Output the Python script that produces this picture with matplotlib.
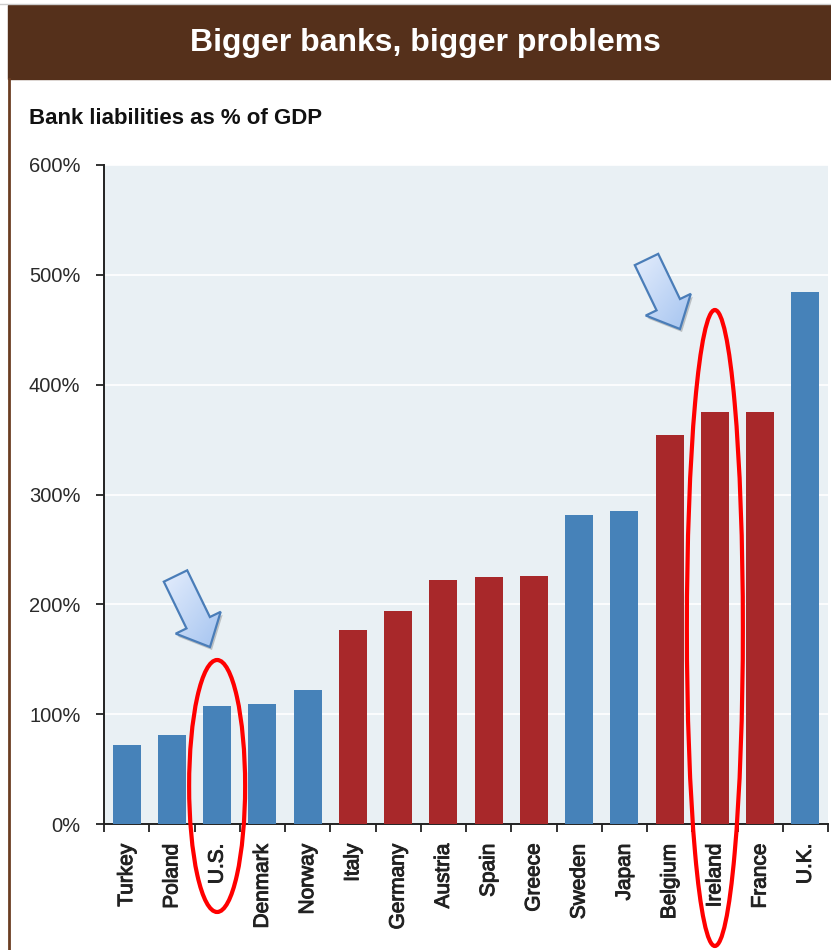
import numpy as np
import matplotlib
matplotlib.use("Agg")
import matplotlib.pyplot as plt
import matplotlib.patheffects as pe
from matplotlib.patches import Rectangle, Ellipse, Polygon
from matplotlib.colors import LinearSegmentedColormap

# Bank liabilities as % of GDP
countries = ["Turkey", "Poland", "U.S.", "Denmark", "Norway", "Italy", "Germany",
             "Austria", "Spain", "Greece", "Sweden", "Japan", "Belgium", "Ireland",
             "France", "U.K."]
liabilities = [72, 81, 107, 109, 122, 177, 194, 222, 225, 226, 281, 285, 354, 375, 375, 484]
euro_area = [False, False, False, False, False, True, True, True, True, True,
             False, False, True, True, True, False]
highlighted = ["U.S.", "Ireland"]
y_ticks = [0, 100, 200, 300, 400, 500, 600]

title = "Bigger banks, bigger problems"
subtitle = "Bank liabilities as % of GDP"

BLUE = "#4682b9"
RED = "#a8282a"
BROWN = "#55301b"

W, H = 831, 950
plt.rcParams["font.family"] = ["Liberation Sans", "DejaVu Sans"]
fig = plt.figure(figsize=(W / 100, H / 100), dpi=100)
fig.patch.set_facecolor("white")

# main chart area
ax = fig.add_axes([104 / W, 1 - 824 / H, (828 - 104) / W, (824 - 165) / H])
ax.set_facecolor("#e9f0f4")
x = np.arange(len(countries))
colors = [RED if e else BLUE for e in euro_area]
ax.bar(x, liabilities, width=0.62, color=colors, zorder=3)

ax.set_xlim(-0.5, len(countries) - 0.5)
ax.set_ylim(y_ticks[0], y_ticks[-1])
ax.set_yticks(y_ticks)
ax.set_yticklabels([f"{v}%" for v in y_ticks])
ax.yaxis.grid(True, color="white", lw=1.2, zorder=1)
ax.set_axisbelow(True)

ax.set_xticks(x)
ax.set_xticklabels(countries, rotation=90, va="top", ha="center")
for lbl in ax.get_xticklabels():
    lbl.set_path_effects([pe.withStroke(linewidth=0.7, foreground="#222222")])
ax.set_xticks(np.arange(-0.5, len(countries), 1), minor=True)
ax.tick_params(axis="x", which="major", length=0, pad=14, labelsize=15, labelcolor="#222222")
ax.tick_params(axis="x", which="minor", length=6, width=1.3, direction="out", color="#222222")
ax.tick_params(axis="y", which="major", length=6, width=1.3, pad=11, labelsize=14.5,
               labelcolor="#2a2a2a", color="#222222")
for s in ("top", "right"):
    ax.spines[s].set_visible(False)
for s in ("left", "bottom"):
    ax.spines[s].set_color("#222222")
    ax.spines[s].set_linewidth(1.4)

# overlay in pixel coordinates (origin top-left) for header and call-outs
ov = fig.add_axes([0, 0, 1, 1], zorder=5)
ov.axis("off")

ov.add_patch(Rectangle((8, 5), W - 8, 74, color=BROWN, zorder=1))
ov.plot([0, W], [4, 4], color="#cccccc", lw=1, zorder=1)
ov.plot([9, 9], [79, H], color="#6b3d22", lw=2, zorder=1)
ov.text(425, 43, title, color="white", fontsize=23, fontweight="bold",
        ha="center", va="center", zorder=2)
ov.text(29, 118, subtitle, color="#111111", fontsize=16, fontweight="bold",
        ha="left", va="center", zorder=2)


def cat_px(name):
    i = countries.index(name)
    return ax.transData.transform((i, 0))[0]


# red ellipses around highlighted countries (top, bottom in pixels)
ellipse_span = {"U.S.": (660, 912), "Ireland": (310, 946)}
for name in highlighted:
    top, bottom = ellipse_span[name]
    ov.add_patch(Ellipse((cat_px(name), (top + bottom) / 2), 56, bottom - top,
                         fc="none", ec="#ff0000", lw=3, zorder=6))

grad_cmap = LinearSegmentedColormap.from_list("arrowfill", ["#e4edfc", "#a5c4f0"])


def block_arrow(tail, tip, sw=26, hw=50, hl=27):
    T = np.array(tail, float)
    P = np.array(tip, float)
    d = (P - T) / np.linalg.norm(P - T)
    n = np.array([-d[1], d[0]])
    B = P - d * hl
    pts = np.array([T + n * sw / 2, B + n * sw / 2, B + n * hw / 2, P,
                    B - n * hw / 2, B - n * sw / 2, T - n * sw / 2])
    ov.add_patch(Polygon(pts + [2, 3], closed=True, fc="#666666", ec="none",
                         alpha=0.35, zorder=3))
    outline = Polygon(pts, closed=True, fc="none", ec="#4a7db8", lw=1.6, zorder=5)
    ov.add_patch(outline)
    x0, y0 = pts.min(0)
    x1, y1 = pts.max(0)
    g = np.linspace(0, 1, 64)
    grad = np.add.outer(g, g) / 2
    img = ov.imshow(grad, cmap=grad_cmap, extent=(x0, x1, y1, y0), origin="upper",
                    aspect="auto", interpolation="bilinear", zorder=4)
    img.set_clip_path(outline)


block_arrow((175.5, 576), (210, 647))
block_arrow((646.5, 259.5), (680, 329))

ov.set_xlim(0, W)
ov.set_ylim(H, 0)

fig.savefig("out.png", dpi=100, facecolor="white")
